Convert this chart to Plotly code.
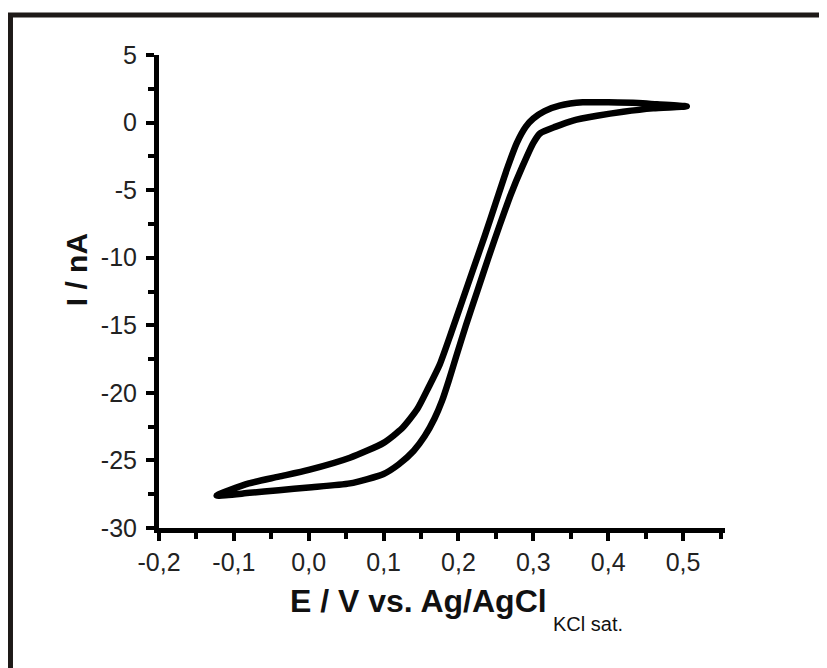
import plotly.graph_objects as go

# Forward branch (from -0.12 V towards 0.5 V)
e_fwd = [-0.123, -0.08, -0.04, 0.0, 0.055, 0.1, 0.125, 0.145, 0.16, 0.175, 0.19, 0.205, 0.22,
         0.235, 0.25, 0.265, 0.278, 0.29, 0.30, 0.315, 0.335, 0.366, 0.40, 0.44, 0.465, 0.505]
i_fwd = [-27.6, -26.7, -26.2, -25.7, -24.8, -23.7, -22.6, -21.2, -19.6, -17.9, -15.6, -13.2, -10.8,
         -8.4, -5.9, -3.4, -1.5, -0.3, 0.3, 0.85, 1.25, 1.5, 1.5, 1.45, 1.35, 1.2]
# Reverse branch (from 0.5 V back to -0.12 V)
e_rev = [0.505, 0.46, 0.42, 0.385, 0.353, 0.33, 0.309, 0.30, 0.285, 0.27, 0.255, 0.24,
         0.225, 0.21, 0.197, 0.187, 0.178, 0.168, 0.155, 0.14, 0.12, 0.10, 0.055, 0.0, -0.04, -0.079, -0.123]
i_rev = [1.2, 1.05, 0.8, 0.5, 0.15, -0.3, -0.8, -1.5, -3.3, -5.3, -7.6, -10.0,
         -12.5, -15.0, -17.3, -19.1, -20.6, -21.9, -23.2, -24.3, -25.3, -26.0, -26.7, -27.0, -27.2, -27.4, -27.6]

x_tickvals = [-0.2, -0.1, 0.0, 0.1, 0.2, 0.3, 0.4, 0.5]
x_ticktext = ["-0,2", "-0,1", "0,0", "0,1", "0,2", "0,3", "0,4", "0,5"]
y_tickvals = [5, 0, -5, -10, -15, -20, -25, -30]
y_ticktext = ["5", "0", "-5", "-10", "-15", "-20", "-25", "-30"]

FONT = "Arial, 'Liberation Sans', sans-serif"

fig = go.Figure()
fig.add_trace(go.Scatter(
    x=e_fwd + e_rev[1:], y=i_fwd + i_rev[1:],
    mode="lines", line=dict(color="black", width=6.5, shape="spline", smoothing=0.6),
    showlegend=False, hoverinfo="skip"))

fig.update_layout(
    width=819, height=660,
    margin=dict(l=151, r=102, t=47, b=140, autoexpand=False),
    paper_bgcolor="white", plot_bgcolor="white",
    font=dict(family=FONT, color="black"),
    showlegend=False,
    xaxis=dict(
        range=[-0.2, 0.556], showgrid=False, zeroline=False, automargin=False,
        showline=True, linewidth=5, linecolor="black",
        ticks="outside", ticklen=8, tickwidth=4, tickcolor="black",
        tickvals=x_tickvals, ticktext=x_ticktext,
        tickfont=dict(size=25, family=FONT, color="#222"),
        minor=dict(ticks="outside", ticklen=6, tickwidth=4, tickcolor="black", dtick=0.05, tick0=0),
    ),
    yaxis=dict(
        range=[-30, 5], showgrid=False, zeroline=False, automargin=False,
        showline=True, linewidth=5, linecolor="black",
        ticks="outside", ticklen=8, tickwidth=4, tickcolor="black",
        tickvals=y_tickvals, ticktext=y_ticktext, ticklabelstandoff=4,
        tickfont=dict(size=25, family=FONT, color="#222"),
        minor=dict(ticks="outside", ticklen=6, tickwidth=4, tickcolor="black", dtick=2.5, tick0=0),
    ),
    annotations=[
        dict(text="<b>I / nA</b>", xref="paper", yref="paper",
             x=-0.1466, y=0.545, xanchor="center", yanchor="middle",
             textangle=-90, showarrow=False,
             font=dict(size=30, family=FONT, color="#111")),
        dict(text="<b>E / V vs. Ag/AgCl</b>", xref="paper", yref="paper",
             x=0.689, y=-0.1543, xanchor="right", yanchor="middle", showarrow=False,
             font=dict(size=32, family=FONT, color="#111")),
        dict(text="KCl sat.", xref="paper", yref="paper",
             x=0.6926, y=-0.2030, xanchor="left", yanchor="middle", showarrow=False,
             font=dict(size=20, family=FONT, color="#111")),
    ],
    shapes=[dict(type="rect", xref="paper", yref="paper",
                 x0=-0.2624, x1=1.556, y0=-0.3425, y1=1.0846,
                 line=dict(color="#1e1a18", width=5), fillcolor="rgba(0,0,0,0)", layer="below")],
)

fig.write_html("out.html")
